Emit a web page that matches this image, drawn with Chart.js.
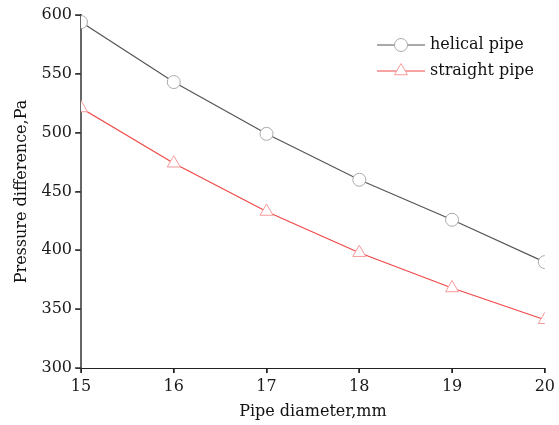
<!DOCTYPE html>
<html><head><meta charset="utf-8">
<script src="https://cdn.jsdelivr.net/npm/chart.js@4/dist/chart.umd.min.js"></script>
<style>html,body{margin:0;padding:0;background:#fff}#wrap{width:559px;height:425px;position:relative}</style>
</head><body><div id="wrap"><canvas id="c" width="559" height="425"></canvas></div>
<script>
const diameters = [15, 16, 17, 18, 19, 20];
const helicalPipe = [594, 543, 499, 460, 426, 390];
const straightPipe = [521, 474, 433, 398, 368, 341];
const seriesNames = ['helical pipe', 'straight pipe'];
const yTicks = [300, 350, 400, 450, 500, 550, 600];

const FONT = '"DejaVu Serif", "Liberation Serif", serif';
const toPts = (vals) => vals.map((v, i) => ({x: diameters[i], y: v}));

const tickMarks = {
  id: 'tickMarks',
  afterDraw(chart) {
    const ctx = chart.ctx, xs = chart.scales.x, ys = chart.scales.y, a = chart.chartArea;
    ctx.save();
    ctx.lineWidth = 1.5;
    ctx.strokeStyle = '#333';
    ys.ticks.forEach(t => {
      const y = Math.round(ys.getPixelForValue(t.value));
      ctx.beginPath(); ctx.moveTo(a.left - 6, y); ctx.lineTo(a.left, y); ctx.stroke();
    });
    ctx.lineWidth = 1.5;
    ctx.strokeStyle = '#222';
    xs.ticks.forEach(t => {
      const x = Math.round(xs.getPixelForValue(t.value));
      ctx.beginPath(); ctx.moveTo(x, a.bottom); ctx.lineTo(x, a.bottom + 5); ctx.stroke();
    });
    ctx.restore();
  }
};

const legendPlugin = {
  id: 'innerLegend',
  afterDraw(chart) {
    const ctx = chart.ctx;
    const x0 = 377, y0 = 45, dy = 26;
    chart.data.datasets.forEach((ds, i) => {
      const y = y0 + i * dy;
      ctx.save();
      ctx.strokeStyle = ds.borderColor; ctx.lineWidth = 1;
      ctx.beginPath(); ctx.moveTo(x0, y); ctx.lineTo(x0 + 48, y); ctx.stroke();
      ctx.fillStyle = ds.pointBackgroundColor; ctx.strokeStyle = ds.pointBorderColor;
      Chart.helpers.drawPoint(ctx, {pointStyle: ds.pointStyle, radius: ds.pointRadius, borderWidth: 1}, x0 + 24, y);
      ctx.fillStyle = '#111'; ctx.font = '16px ' + FONT; ctx.textBaseline = 'middle';
      ctx.fillText(ds.label, x0 + 53, y);
      ctx.restore();
    });
  }
};

new Chart(document.getElementById('c'), {
  type: 'line',
  data: {
    datasets: [
      {label: seriesNames[0], data: toPts(helicalPipe), borderColor: '#555555', borderWidth: 1.2,
       pointStyle: 'circle', pointRadius: 6.5, pointBackgroundColor: '#ffffff', pointBorderColor: '#aaaaaa', pointBorderWidth: 1, tension: 0},
      {label: seriesNames[1], data: toPts(straightPipe), borderColor: '#f04848', borderWidth: 1.2,
       pointStyle: 'triangle', pointRadius: 7.5, pointBackgroundColor: '#ffffff', pointBorderColor: '#f59a9a', pointBorderWidth: 1, tension: 0}
    ]
  },
  options: {
    responsive: false, animation: false, devicePixelRatio: 1,
    layout: {padding: {top: 15, right: 13, left: 0, bottom: 0}},
    plugins: {legend: {display: false}, tooltip: {enabled: false}},
    scales: {
      x: {type: 'linear', min: 15, max: 20,
        afterFit(s) { s.height = 57; },
        afterBuildTicks(s) { s.ticks = diameters.map(v => ({value: v})); },
        grid: {display: true, drawOnChartArea: false, drawTicks: true, tickLength: 5, tickColor: '#222', color: '#222'},
        border: {display: true, color: '#222', width: 1},
        ticks: {color: '#1a1a1a', font: {family: FONT, size: 16}, padding: 4, maxRotation: 0},
        title: {display: true, text: 'Pipe diameter,mm', color: '#111', font: {family: FONT, size: 16}, padding: {top: 0, bottom: 4}}
      },
      y: {min: 300, max: 600,
        afterFit(s) { s.width = 81; },
        afterBuildTicks(s) { s.ticks = yTicks.map(v => ({value: v})); },
        grid: {display: true, drawOnChartArea: false, drawTicks: true, tickLength: 5, tickColor: '#333', color: '#333'},
        border: {display: true, color: '#666', width: 2},
        ticks: {color: '#1a1a1a', font: {family: FONT, size: 16}, padding: 4},
        title: {display: true, text: 'Pressure difference,Pa', color: '#111', font: {family: FONT, size: 16}, padding: {top: 12, bottom: 0}}
      }
    }
  },
  plugins: [tickMarks, legendPlugin]
});
</script></body></html>
